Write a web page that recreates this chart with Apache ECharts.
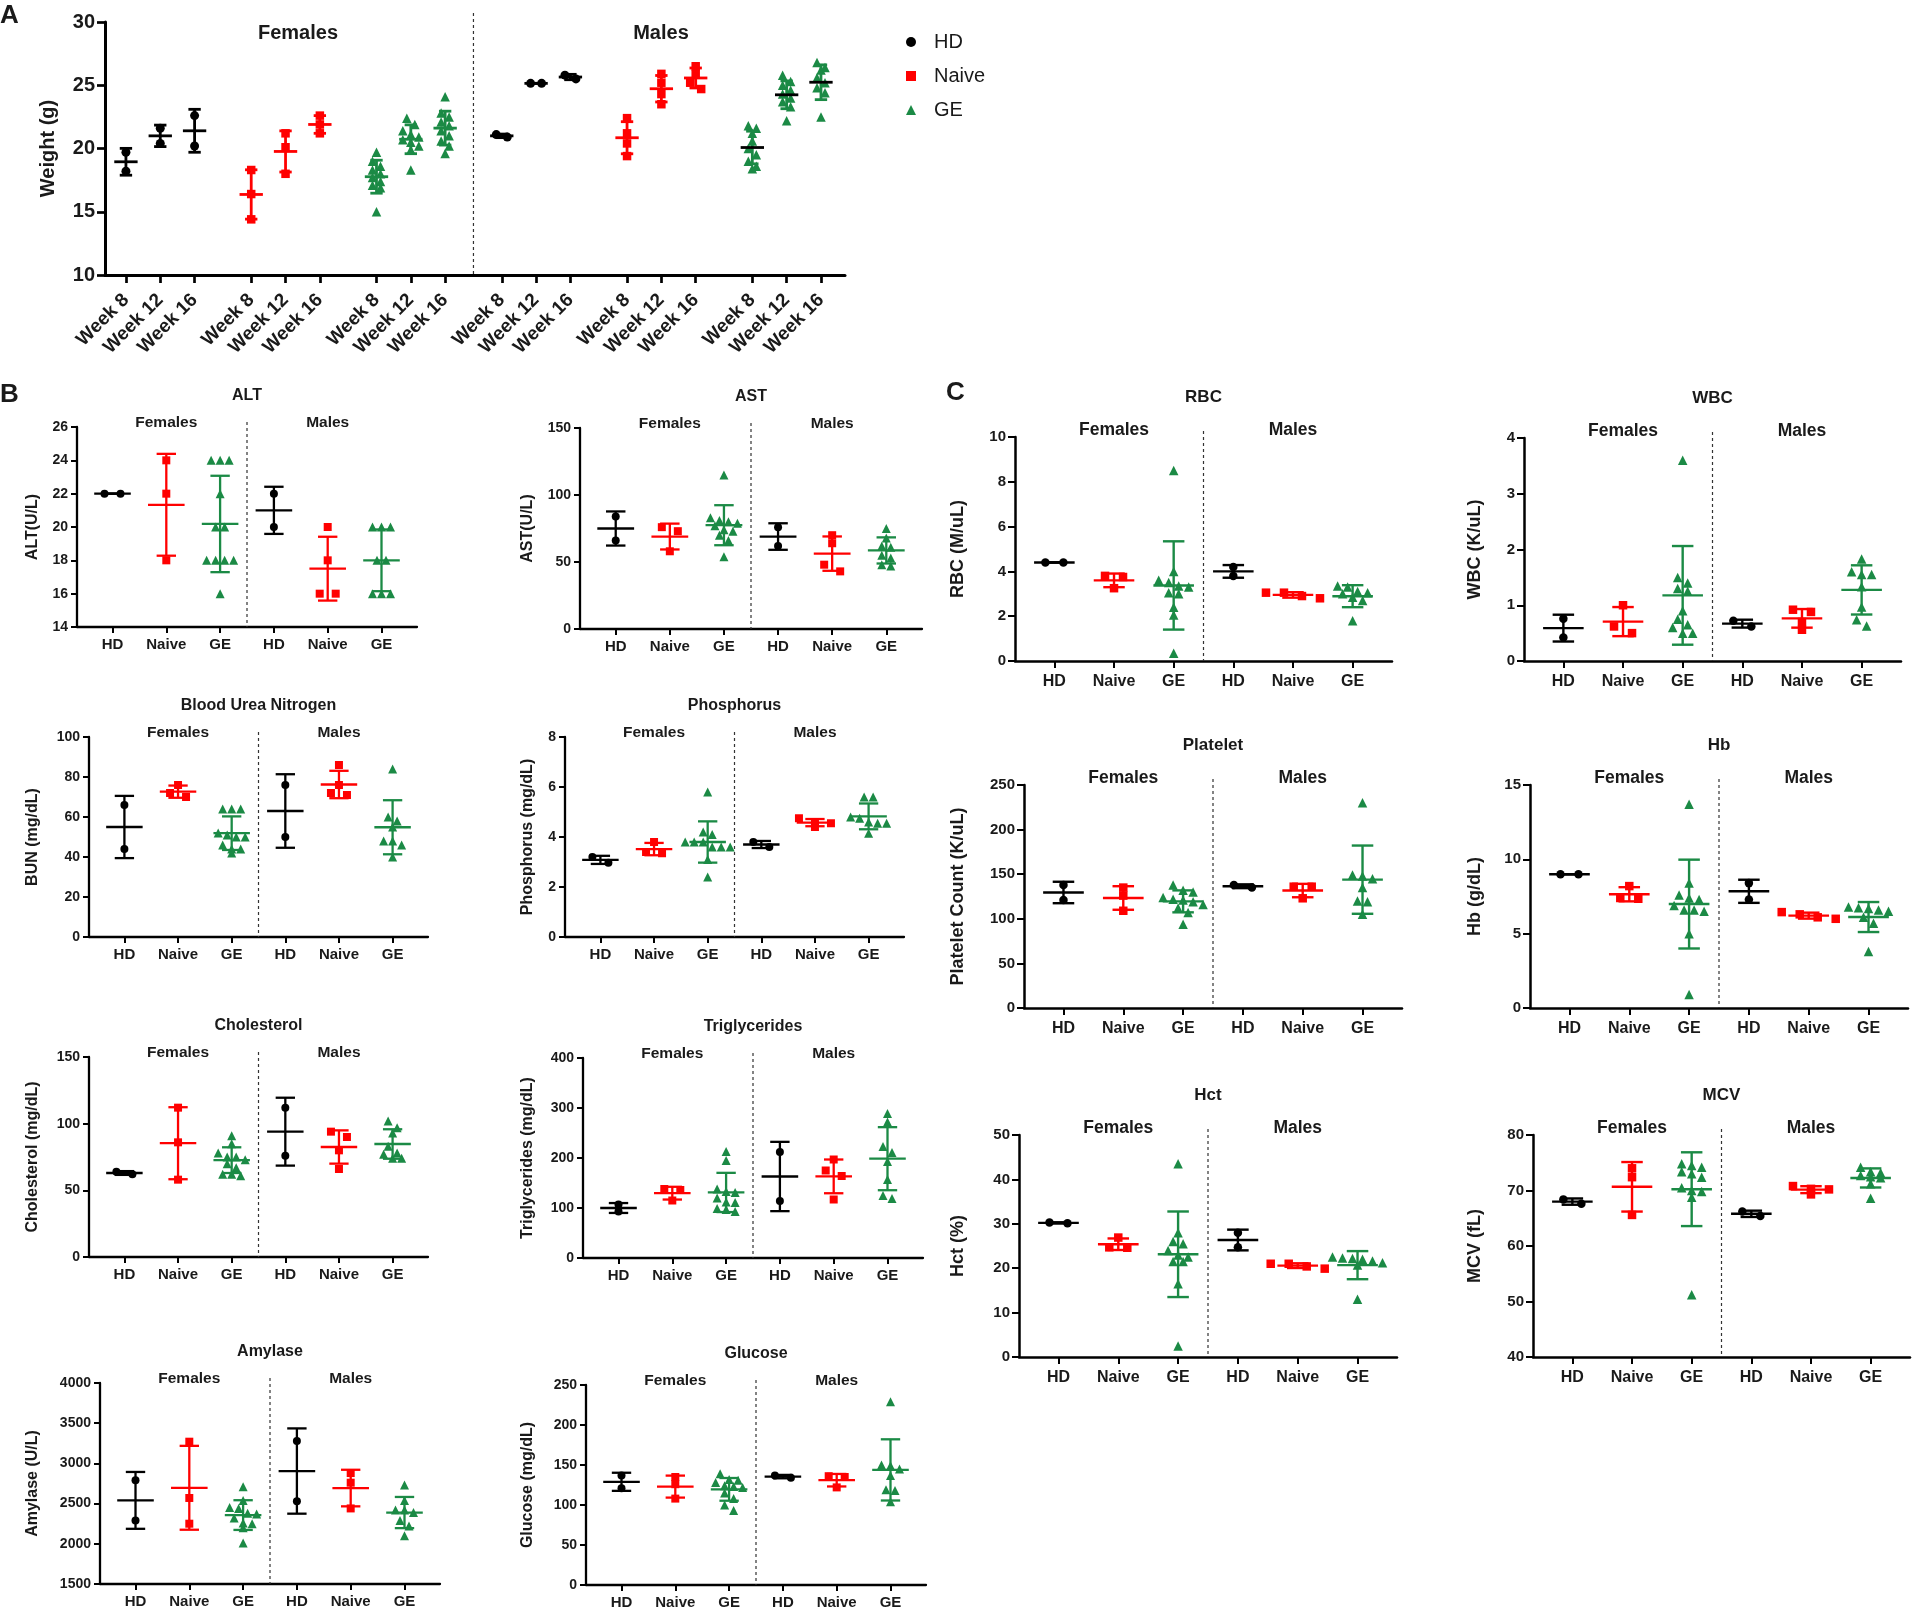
<!DOCTYPE html>
<html><head><meta charset="utf-8">
<script src="https://cdn.jsdelivr.net/npm/echarts@6/dist/echarts.min.js"></script>
<style>html,body{margin:0;padding:0;background:#fff;}#c{width:1915px;height:1615px;}</style>
</head><body><div id="c"></div>
<script>
// ---------------- DATA ----------------
const TREAT = ['HD', 'Naive', 'GE'];
const WEEKS = ['Week 8', 'Week 12', 'Week 16'];

// Panel A: body weight (g), per week [W8, W12, W16]
const wF_HD    = [[19.7, 18.2], [21.6, 20.4], [22.6, 20.2]];
const wF_Naive = [[18.3, 16.4, 14.4], [21.2, 20.1, 18.0], [22.6, 21.9, 21.2]];
const wF_GE    = [[19.7, 19.0, 18.6, 18.3, 18.0, 17.7, 17.4, 17.1, 16.9, 15.0],
                  [22.4, 21.9, 21.4, 21.1, 20.9, 20.7, 20.5, 20.2, 19.9, 18.3],
                  [24.1, 22.8, 22.5, 22.1, 21.8, 21.4, 21.0, 20.6, 20.2, 19.6]];
const wM_HD    = [[20.9, 21.1], [25.15, 25.15], [25.5, 25.8]];
const wM_Naive = [[22.4, 21.2, 20.4, 19.4], [25.9, 25.2, 24.3, 23.5], [26.5, 25.9, 25.2, 24.7]];
const wM_GE    = [[21.8, 21.6, 21.2, 20.6, 20.0, 19.5, 19.0, 18.6, 18.4],
                  [25.8, 25.3, 25.0, 24.6, 24.3, 24.0, 23.7, 23.3, 22.2],
                  [26.8, 26.4, 26.2, 25.6, 25.2, 24.8, 24.4, 22.5]];

// Panels B & C: group order [F-HD, F-Naive, F-GE, M-HD, M-Naive, M-GE]
const ALT  = [[22, 22], [24, 22, 18], [24, 24, 24, 22, 20, 20, 18, 18, 18, 18, 16], [22, 20], [20, 18, 16, 16], [20, 20, 20, 18, 18, 16, 16, 16]];
const AST  = [[84, 66], [76, 73, 58], [115, 83, 81, 80, 79, 77, 74, 73, 70, 66, 54], [76, 62], [70, 64, 48, 43], [75, 68, 62, 61, 55, 53, 48, 47]];
const BUN  = [[66, 44], [76, 72, 70], [64, 64, 64, 52, 51, 50, 50, 46, 44, 44, 42], [76, 50], [86, 76, 72, 71], [84, 60, 58, 55, 48, 48, 46, 40]];
const PHOS = [[2.97, 3.2], [3.8, 3.4, 3.35], [5.8, 4.2, 4.1, 3.8, 3.8, 3.8, 3.6, 3.6, 3.6, 3.1, 2.4], [3.6, 3.8], [4.75, 4.6, 4.55, 4.4], [5.6, 5.6, 4.8, 4.75, 4.6, 4.55, 4.55, 4.15]];
const CHOL = [[62, 64], [112, 86, 58], [91, 85, 78, 75, 75, 73, 70, 67, 62, 62, 61], [112, 76], [94, 90, 80, 66], [102, 97, 93, 83, 78, 77, 74, 74]];
const TG   = [[93, 107], [138, 136, 115], [213, 195, 138, 133, 131, 120, 112, 111, 99, 97, 93], [212, 114], [197, 175, 164, 117], [289, 272, 223, 211, 193, 157, 125, 119]];
const AMY  = [[2790, 2290], [3270, 2570, 2250], [2710, 2540, 2450, 2440, 2380, 2370, 2320, 2260, 2250, 2200, 2010], [3280, 2530], [2880, 2760, 2440], [2730, 2540, 2420, 2420, 2390, 2290, 2220, 2100]];
const GLU  = [[137, 121], [135, 126, 108], [139, 132, 131, 128, 124, 123, 122, 115, 108, 100, 93], [134, 137], [136, 135, 122], [229, 150, 149, 145, 137, 119, 118, 104]];
const RBC  = [[4.4, 4.4], [3.8, 3.75, 3.25], [8.5, 4.0, 3.6, 3.5, 3.35, 3.3, 3.05, 3.0, 2.4, 2.05, 0.35], [4.2, 3.8], [2.8, 3.05, 2.9, 3.05], [3.35, 3.3, 3.1, 3.05, 3.0, 2.85, 2.7, 1.8]];
const WBC  = [[0.76, 0.42], [1.0, 0.62, 0.5], [3.6, 1.5, 1.4, 1.3, 1.25, 0.9, 0.75, 0.65, 0.6, 0.5, 0.5], [0.62, 0.72], [0.92, 0.88, 0.7, 0.56], [1.83, 1.6, 1.55, 1.55, 1.33, 0.97, 0.74, 0.63]];
const PLT  = [[138, 121], [135, 126, 109], [138, 132, 130, 124, 122, 121, 119, 116, 112, 107, 94], [135, 138], [136, 136, 123], [230, 149, 148, 145, 135, 120, 119, 105]];
const HB   = [[9.0, 9.0], [8.2, 7.4, 7.35], [13.7, 8.4, 7.6, 7.4, 7.3, 6.9, 6.6, 6.6, 6.5, 5.0, 0.9], [8.4, 7.3], [6.45, 6.0, 6.1, 6.3], [6.8, 6.75, 6.7, 6.6, 6.5, 6.1, 5.7, 3.8]];
const HCT  = [[30.1, 30.3], [26.9, 24.7, 24.6], [43.5, 28, 26, 25.5, 24, 23, 22.5, 21.5, 21.5, 16.5, 2.5], [28, 24.7], [19.9, 21.0, 20.4, 21.0], [22.5, 22.3, 22.2, 22.0, 21.6, 21.2, 20.7, 13.0]];
const MCV  = [[67.6, 68.4], [74, 72.4, 65.6], [74.8, 74.5, 74.2, 73.4, 73.0, 72.4, 70.5, 70.0, 69.8, 68.8, 51.2], [65.4, 66.2], [70.8, 69.3, 70.2, 70.3], [74.2, 73.4, 73.2, 72.7, 72.5, 72.3, 71.2, 68.6]];

// ---------------- STYLE / LAYOUT ----------------
const FONT = "'Liberation Sans', Arial, Helvetica, sans-serif";
const TXT = '#1a1a1a';
const TCOLOR = ['#000000', '#ff0000', '#1b8a45'];
const TSYMBOL = ['circle', 'rect', 'triangle'];

const ST_A = {axisW: 3, tickLen: 8, tickW: 2.7, xFont: 19, yFont: 20, nameFont: 20, xMargin: 22, yMargin: 10, xRotate: 45,
  sym: [9, 8.5, 9.5], barW: 2.8, stepSmall: 11, stepLarge: 8, rowPx: 7, divExt: 9};
const ST_B = {axisW: 2.3, tickLen: 6, tickW: 2, xFont: 15, yFont: 14, nameFont: 16, xMargin: 10, yMargin: 9, xRotate: 0,
  sym: [8, 8, 9], barW: 2.3, stepSmall: 16, stepLarge: 9, rowPx: 7, divExt: 5, titleFont: 16, sexFont: 15.5, titleDy: -31, sexDy: -4};
const ST_C = {axisW: 2.5, tickLen: 7, tickW: 2, xFont: 16, yFont: 15, nameFont: 18, xMargin: 13, yMargin: 9, xRotate: 0,
  sym: [8.5, 8.5, 9.5], barW: 2.4, stepSmall: 18, stepLarge: 10, rowPx: 7.5, divExt: 6, titleFont: 17, sexFont: 17.5, titleDy: -40, sexDy: -7};

const SUB = [
  {data: ALT,  title: 'ALT', yName: 'ALT(U/L)', min: 14, max: 26, interval: 2, box: [77, 427, 417, 627], nd: 44, st: ST_B},
  {data: AST,  title: 'AST', yName: 'AST(U/L)', min: 0, max: 150, interval: 50, box: [580, 428, 922, 629], nd: 52, st: ST_B},
  {data: BUN,  title: 'Blood Urea Nitrogen', yName: 'BUN (mg/dL)', min: 0, max: 100, interval: 20, box: [89, 737, 428, 937], nd: 56, st: ST_B},
  {data: PHOS, title: 'Phosphorus', yName: 'Phosphorus (mg/dL)', min: 0, max: 8, interval: 2, box: [565, 737, 904, 937], nd: 37, st: ST_B},
  {data: CHOL, title: 'Cholesterol', yName: 'Cholesterol (mg/dL)', min: 0, max: 150, interval: 50, box: [89, 1057, 428, 1257], nd: 56, st: ST_B},
  {data: TG,   title: 'Triglycerides', yName: 'Triglycerides (mg/dL)', min: 0, max: 400, interval: 100, box: [583, 1058, 923, 1258], nd: 55, st: ST_B},
  {data: AMY,  title: 'Amylase', yName: 'Amylase (U/L)', min: 1500, max: 4000, interval: 500, box: [100, 1383, 440, 1584], nd: 67, st: ST_B},
  {data: GLU,  title: 'Glucose', yName: 'Glucose (mg/dL)', min: 0, max: 250, interval: 50, box: [586, 1385, 926, 1585], nd: 58, st: ST_B},
  {data: RBC,  title: 'RBC', yName: 'RBC (M/uL)', min: 0, max: 10, interval: 2, box: [1015, 437, 1392, 661], nd: 57, st: ST_C},
  {data: WBC,  title: 'WBC', yName: 'WBC (K/uL)', min: 0, max: 4, interval: 1, box: [1524, 438, 1901, 661], nd: 49, st: ST_C},
  {data: PLT,  title: 'Platelet', yName: 'Platelet Count (K/uL)', min: 0, max: 250, interval: 50, box: [1024, 785, 1402, 1008], nd: 66, st: ST_C},
  {data: HB,   title: 'Hb', yName: 'Hb (g/dL)', min: 0, max: 15, interval: 5, box: [1530, 785, 1908, 1008], nd: 55, st: ST_C},
  {data: HCT,  title: 'Hct', yName: 'Hct (%)', min: 0, max: 50, interval: 10, box: [1019, 1135, 1397, 1357], nd: 61, st: ST_C},
  {data: MCV,  title: 'MCV', yName: 'MCV (fL)', min: 40, max: 80, interval: 10, box: [1533, 1135, 1910, 1357], nd: 58, st: ST_C}
];

// ---------------- BUILD ----------------
const grids = [], xAxes = [], yAxes = [], series = [], graphics = [];

function meanSd(a) {
  const n = a.length, m = a.reduce((s, v) => s + v, 0) / n;
  const v = n > 1 ? a.reduce((s, x) => s + (x - m) * (x - m), 0) / (n - 1) : 0;
  return [m, Math.sqrt(v)];
}
function swarm(vals, vpp, stepPx, rowPx) {
  const idx = vals.map((v, i) => i).sort((a, b) => vals[b] - vals[a]);
  const off = new Array(vals.length).fill(0);
  let row = [], start = null;
  const flush = () => { row.forEach((id, j) => { off[id] = (j - (row.length - 1) / 2) * stepPx; }); row = []; };
  idx.forEach(id => {
    const v = vals[id];
    if (start === null || (start - v) / vpp >= rowPx) { flush(); start = v; }
    row.push(id);
  });
  flush();
  return off;
}
function txt(x, y, text, size, align, weight) {
  graphics.push({type: 'text', x: x, y: y, silent: true, z: 10,
    style: {text: text, font: (weight || 'bold') + ' ' + size + 'px ' + FONT, fill: TXT, align: align || 'center', verticalAlign: 'middle'}});
}
function makeBarRender(cols, mcols, lw) {
  return function (params, api) {
    const x = api.value(0), m = api.value(1), sd = api.value(2);
    const c = api.coord([x, m]);
    const top = api.coord([x, m + sd])[1], bot = api.coord([x, m - sd])[1];
    const unit = api.size([1, 0])[0];
    const hw = unit * 0.34, cw = unit * 0.18;
    const st = {stroke: cols[params.dataIndex], lineWidth: lw};
    return {type: 'group', children: [
      {type: 'line', shape: {x1: c[0], y1: top, x2: c[0], y2: bot}, style: st},
      {type: 'line', shape: {x1: c[0] - cw, y1: top, x2: c[0] + cw, y2: top}, style: st},
      {type: 'line', shape: {x1: c[0] - cw, y1: bot, x2: c[0] + cw, y2: bot}, style: st},
      {type: 'line', shape: {x1: c[0] - hw, y1: c[1], x2: c[0] + hw, y2: c[1]}, style: {stroke: mcols[params.dataIndex], lineWidth: lw}}
    ]};
  };
}
function makeDivider(ymin, ymax, ext) {
  return function (params, api) {
    const p1 = api.coord([api.value(0), ymax]), p2 = api.coord([api.value(0), ymin]);
    return {type: 'line', shape: {x1: p1[0], y1: p1[1] - ext, x2: p2[0], y2: p2[1]},
      style: {stroke: '#333', lineWidth: 1.2, lineDash: [3, 3]}};
  };
}
function addAxes(box, xmin, xmax, ticks, fmt, ymin, ymax, interval, yName, nd, st) {
  const gi = grids.length;
  grids.push({left: box[0], top: box[1], width: box[2] - box[0], height: box[3] - box[1], containLabel: false});
  xAxes.push({type: 'value', gridIndex: gi, min: xmin, max: xmax,
    axisLine: {show: true, onZero: false, lineStyle: {color: '#000', width: st.axisW}},
    axisTick: {show: true, customValues: ticks, length: st.tickLen, lineStyle: {color: '#000', width: st.tickW}},
    axisLabel: {show: true, customValues: ticks, formatter: fmt, color: TXT, fontFamily: FONT, fontWeight: 'bold', fontSize: st.xFont, margin: st.xMargin, rotate: st.xRotate},
    splitLine: {show: false}});
  yAxes.push({type: 'value', gridIndex: gi, min: ymin, max: ymax, interval: interval,
    name: yName, nameLocation: 'middle', nameGap: nd - st.nameFont / 2,
    nameTextStyle: {color: TXT, fontFamily: FONT, fontWeight: 'bold', fontSize: st.nameFont},
    axisLine: {show: true, onZero: false, lineStyle: {color: '#000', width: st.axisW}},
    axisTick: {show: true, length: st.tickLen, lineStyle: {color: '#000', width: st.tickW}},
    axisLabel: {show: true, formatter: v => String(v), color: TXT, fontFamily: FONT, fontWeight: 'bold', fontSize: st.yFont, margin: st.yMargin},
    splitLine: {show: false}});
  return gi;
}
function addGroups(gi, box, xmin, xmax, ymin, ymax, groups, st) {
  const unitPx = (box[2] - box[0]) / (xmax - xmin);
  const vpp = (ymax - ymin) / (box[3] - box[1]);
  const pts = [[], [], []], bars = [], cols = [], mcols = [];
  groups.forEach(g => {
    const step = g.vals.length <= 4 ? st.stepSmall : st.stepLarge;
    const off = swarm(g.vals, vpp, step, st.rowPx);
    g.vals.forEach((v, i) => pts[g.t].push([g.pos + off[i] / unitPx, v]));
    const ms = meanSd(g.vals);
    bars.push([g.pos, ms[0], ms[1]]);
    cols.push(TCOLOR[g.t]);
    mcols.push(g.meanColor || TCOLOR[g.t]);
  });
  for (let t = 0; t < 3; t++) {
    series.push({type: 'scatter', name: TREAT[t], xAxisIndex: gi, yAxisIndex: gi, data: pts[t],
      symbol: TSYMBOL[t], symbolSize: st.sym[t], itemStyle: {color: TCOLOR[t], opacity: 1},
      silent: true, z: 2, animation: false});
  }
  series.push({type: 'custom', xAxisIndex: gi, yAxisIndex: gi, data: bars,
    renderItem: makeBarRender(cols, mcols, st.barW), silent: true, clip: false, z: 3, animation: false});
}
function addDivider(gi, x, ymin, ymax, ext) {
  series.push({type: 'custom', xAxisIndex: gi, yAxisIndex: gi, data: [[x, ymin]],
    renderItem: makeDivider(ymin, ymax, ext), silent: true, clip: false, z: 1, animation: false});
}

// ----- Panel A -----
(function () {
  const G = 1.65; // gap between blocks, in week-spacing units
  const blocks = [[wF_HD, 0], [wF_Naive, 1], [wF_GE, 2], [wM_HD, 0], [wM_Naive, 1], [wM_GE, 2]];
  const pos = [], labs = [];
  for (let b = 0; b < 6; b++) for (let w = 0; w < 3; w++) { pos.push(b * (2 + G) + w); labs.push(WEEKS[w]); }
  const xmin = -0.61, xmax = pos[pos.length - 1] + 0.70;
  const box = [105, 22, 845, 275];
  const fmt = v => { let best = 0; pos.forEach((p, i) => { if (Math.abs(p - v) < Math.abs(pos[best] - v)) best = i; }); return labs[best]; };
  const gi = addAxes(box, xmin, xmax, pos, fmt, 10, 30, 5, 'Weight (g)', 57, ST_A);
  const groups = [];
  blocks.forEach((bl, b) => {
    bl[0].forEach((vals, w) => {
      const g = {pos: pos[b * 3 + w], vals: vals, t: bl[1]};
      if (b === 5) g.meanColor = '#000000';
      groups.push(g);
    });
  });
  addGroups(gi, box, xmin, xmax, 10, 30, groups, ST_A);
  addDivider(gi, (pos[8] + pos[9]) / 2, 10, 30, ST_A.divExt);
  txt(298, 33, 'Females', 20);
  txt(661, 33, 'Males', 20);
})();

// ----- Panels B & C -----
SUB.forEach(p => {
  const xmin = -0.66, xmax = 5.66, ticks = [0, 1, 2, 3, 4, 5];
  const st = p.st;
  const gi = addAxes(p.box, xmin, xmax, ticks, v => TREAT[Math.round(v) % 3], p.min, p.max, p.interval, p.yName, p.nd, st);
  const groups = p.data.map((vals, k) => ({pos: k, vals: vals, t: k % 3}));
  addGroups(gi, p.box, xmin, xmax, p.min, p.max, groups, st);
  addDivider(gi, 2.5, p.min, p.max, st.divExt);
  const w = p.box[2] - p.box[0];
  const cx = v => p.box[0] + (v - xmin) / (xmax - xmin) * w;
  txt((p.box[0] + p.box[2]) / 2, p.box[1] + st.titleDy, p.title, st.titleFont);
  txt(cx(1), p.box[1] + st.sexDy, 'Females', st.sexFont);
  txt(cx(4), p.box[1] + st.sexDy, 'Males', st.sexFont);
});

// panel letters
txt(0, 16, 'A', 26, 'left');
txt(0, 395, 'B', 26, 'left');
txt(946, 393, 'C', 26, 'left');

const chart = echarts.init(document.getElementById('c'), null, {renderer: 'canvas', width: 1915, height: 1615});
chart.setOption({
  backgroundColor: '#ffffff',
  animation: false,
  textStyle: {fontFamily: FONT},
  legend: {orient: 'vertical', left: 901, top: 27, itemWidth: 10, itemHeight: 10, itemGap: 14, selectedMode: false,
    data: TREAT, textStyle: {fontSize: 20, color: TXT, fontFamily: FONT, padding: [0, 0, 0, 13]}},
  grid: grids, xAxis: xAxes, yAxis: yAxes, series: series, graphic: graphics
});
</script></body></html>
